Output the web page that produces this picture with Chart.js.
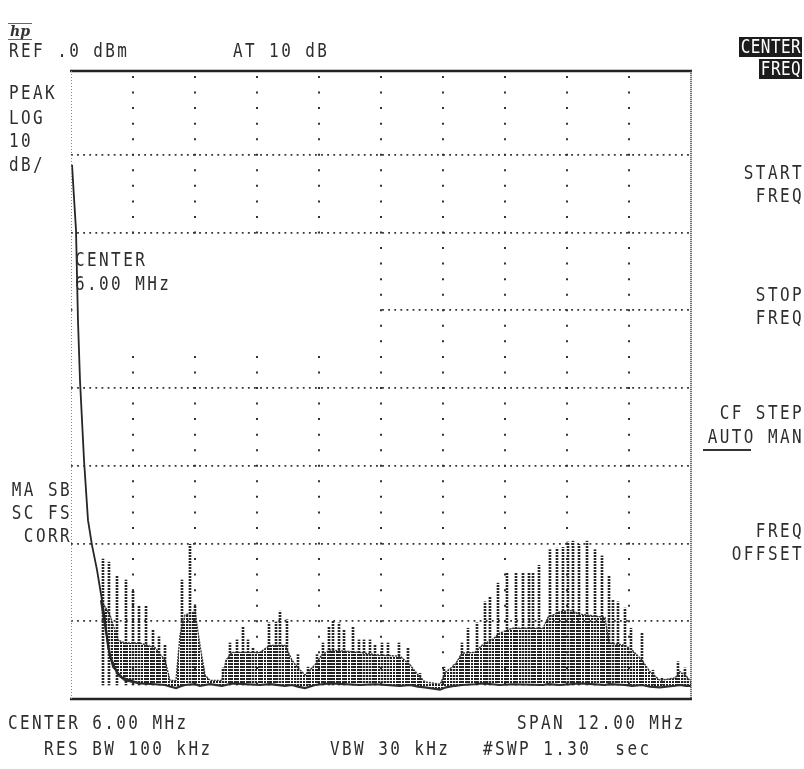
<!DOCTYPE html>
<html>
<head>
<meta charset="utf-8">
<script src="https://cdn.jsdelivr.net/npm/chart.js@4.4.1/dist/chart.umd.min.js"></script>
<style>
  html, body { margin: 0; padding: 0; background: #fff; }
  #screen { position: relative; width: 804px; height: 769px; overflow: hidden; background: #fff; }
  #screen canvas { position: absolute; left: 0; top: 0; }
  .t {
    position: absolute;
    font-family: "DejaVu Sans Mono", monospace;
    font-size: 16px;
    line-height: 16px;
    letter-spacing: 2.4px;
    color: #2e2e2e;
    white-space: pre;
    transform: scaleY(1.25);
    transform-origin: 0 0;
  }
  .r { right: 0; text-align: right; }
  .inv { background: #1c1c1c; color: #fff; letter-spacing: 0.4px; padding: 0 1px 0 2px; }
  .logo { position: absolute; left: 8px; top: 23px; font: italic bold 14px "DejaVu Serif", serif; color: #333;
          border-top: 1px solid #666; border-bottom: 1px solid #666; line-height: 15px; padding: 0 2px; }
  .bar { position: absolute; background: #333; }
</style>
</head>
<body>
<div id="screen">
  <canvas id="spectrum" width="804" height="769"></canvas>

  <div class="logo">hp</div>
  <div class="t" style="left:9px;top:41px">REF .0 dBm</div>
  <div class="t" style="left:233px;top:41px">AT 10 dB</div>

  <div class="t" style="left:9px;top:83px">PEAK</div>
  <div class="t" style="left:9px;top:108px">LOG</div>
  <div class="t" style="left:9px;top:131px">10</div>
  <div class="t" style="left:9px;top:155px">dB/</div>

  <div class="t" style="left:0;width:72px;text-align:right;top:480px">MA SB</div>
  <div class="t" style="left:0;width:72px;text-align:right;top:503px">SC FS</div>
  <div class="t" style="left:0;width:72px;text-align:right;top:526px">CORR</div>

  <div class="t inv" style="right:2px;top:37px">CENTER</div>
  <div class="t inv" style="right:2px;top:59px">FREQ</div>
  <div class="t r" style="top:163px">START</div>
  <div class="t r" style="top:186px">FREQ</div>
  <div class="t r" style="top:285px">STOP</div>
  <div class="t r" style="top:308px">FREQ</div>
  <div class="t r" style="top:403px">CF STEP</div>
  <div class="t r" style="top:427px">AUTO MAN</div>
  <div class="bar" style="left:703px;top:449px;width:48px;height:2px"></div>
  <div class="t r" style="top:521px">FREQ</div>
  <div class="t r" style="top:544px">OFFSET</div>

  <div class="t" style="left:75px;top:250px">CENTER</div>
  <div class="t" style="left:75px;top:274px">6.00 MHz</div>

  <div class="t" style="left:8px;top:713px">CENTER 6.00 MHz</div>
  <div class="t" style="left:517px;top:713px">SPAN 12.00 MHz</div>
  <div class="t" style="left:44px;top:739px">RES BW 100 kHz</div>
  <div class="t" style="left:330px;top:739px">VBW 30 kHz</div>
  <div class="t" style="left:483px;top:739px">#SWP 1.30  sec</div>
</div>

<script>
// Graticule: 10 horizontal divisions over 0-12 MHz, 10 dB/div below REF 0 dBm
const xTickMHz = [1.2, 2.4, 3.6, 4.8, 6.0, 7.2, 8.4, 9.6, 10.8];
const yTickDbm = [-70, -60, -50, -40, -30, -20, -10];

// LO feedthrough skirt at the low end of the sweep
const loMHz = [0.02, 0.058, 0.097, 0.135, 0.174, 0.252, 0.329, 0.406, 0.503, 0.600, 0.658, 0.716, 0.813, 0.987, 1.239];
const loDbm = [-11.3, -15.5, -19.7, -31.3, -39.0, -49.3, -57.0, -60.2, -63.4, -67.3, -69.8, -73.3, -75.9, -77.2, -77.8];

// Dense part of the trace: upper edge and noise floor
const envMHz = [0.581, 0.755, 0.910, 1.045, 1.335, 1.626, 1.819, 1.916, 2.032, 2.110,
                2.206, 2.400, 2.497, 2.593, 2.690, 2.922, 3.000, 3.116, 3.658, 3.851,
                4.142, 4.277, 4.393, 4.529, 4.722, 4.858, 5.013, 5.593, 5.884, 6.367,
                6.561, 6.716, 6.851, 7.142, 7.258, 7.432, 7.567, 7.819, 7.954, 8.148,
                8.303, 8.535, 9.135, 9.232, 9.464, 9.658, 9.851, 10.335, 10.413, 10.722,
                10.857, 11.051, 11.206, 11.399, 11.690, 11.787, 11.903, 12.0];
const envTopDbm = [-67.3, -69.2, -72.4, -72.8, -72.8, -73.4, -75.0, -77.6, -77.6, -71.8,
                   -69.2, -68.8, -73.1, -76.9, -77.6, -77.6, -75.0, -74.0, -74.0, -73.1,
                   -73.1, -75.0, -76.0, -76.9, -75.6, -74.3, -73.7, -74.0, -74.3, -74.5,
                   -75.6, -76.9, -77.8, -78.1, -76.5, -75.6, -74.1, -74.0, -73.1, -72.4,
                   -71.5, -70.9, -70.9, -69.5, -68.8, -68.6, -69.1, -69.5, -72.8, -73.1,
                   -73.7, -75.0, -76.5, -77.6, -77.3, -76.5, -77.0, -77.8];
const envFloorDbm = [-67.3, -74.5, -76.9, -77.6, -78.0, -78.1, -78.2, -78.4, -78.6, -78.4,
                     -78.2, -78.1, -78.3, -78.2, -78.1, -78.3, -78.2, -78.0, -78.2, -78.1,
                     -78.3, -78.2, -78.4, -78.6, -78.2, -78.1, -78.0, -78.2, -78.1, -78.3,
                     -78.2, -78.4, -78.5, -78.8, -78.5, -78.3, -78.2, -78.1, -78.0, -78.1,
                     -78.2, -78.1, -78.2, -78.1, -78.2, -78.1, -78.0, -78.2, -78.1, -78.2,
                     -78.3, -78.2, -78.4, -78.5, -78.3, -78.2, -78.3, -78.3];

// Individual spectral lines (peak level of each)
const spikeMHz = [0.619, 0.735, 0.890, 1.064, 1.200, 1.316, 1.452, 1.587, 1.703, 1.819,
                  2.148, 2.303, 2.400, 2.555, 2.942, 3.077, 3.213, 3.329, 3.426, 3.522,
                  3.658, 3.832, 3.968, 4.045, 4.180, 4.393, 4.587, 4.761, 4.877, 4.993,
                  5.071, 5.187, 5.284, 5.458, 5.574, 5.671, 5.787, 5.884, 6.019, 6.135,
                  6.348, 6.522, 6.619, 6.755, 7.219, 7.413, 7.567, 7.684, 7.858, 8.013,
                  8.109, 8.264, 8.438, 8.613, 8.748, 8.864, 8.942, 9.058, 9.270, 9.406,
                  9.522, 9.619, 9.716, 9.832, 9.987, 10.142, 10.277, 10.413, 10.490, 10.587,
                  10.722, 10.838, 11.051, 11.264, 11.438, 11.748, 11.883];
const spikeDbm = [-62.0, -62.4, -64.1, -64.7, -66.0, -68.0, -68.0, -71.1, -72.0, -73.1,
                  -64.7, -60.1, -67.9, -75.9, -76.0, -72.8, -72.4, -70.7, -72.4, -73.4,
                  -74.0, -70.2, -70.1, -68.7, -69.8, -74.3, -75.9, -74.3, -72.8, -70.7,
                  -70.0, -70.2, -71.1, -70.7, -72.4, -72.4, -72.4, -73.1, -72.8, -72.8,
                  -72.8, -73.4, -76.3, -76.7, -75.9, -75.6, -72.8, -70.9, -70.2, -67.5,
                  -66.8, -65.1, -63.8, -63.8, -63.7, -63.8, -63.8, -62.8, -60.8, -60.6,
                  -60.5, -59.8, -59.7, -60.1, -59.7, -60.8, -61.6, -64.1, -67.3, -67.5,
                  -68.3, -70.9, -71.5, -76.3, -77.2, -75.2, -76.0];
const spikeBaseDbm = -78.2;

const ink = '#333';

const toXY = (xs, ys) => xs.map((v, i) => ({ x: v, y: ys[i] }));

// Printer-dot textures: a dot grid for the dense trace, dotted rows for single lines
function dotPattern(w, h, dw, dh, color) {
  const c = document.createElement('canvas');
  c.width = w; c.height = h;
  const g = c.getContext('2d');
  g.fillStyle = color;
  g.fillRect(0, 0, dw, dh);
  return g.createPattern(c, 'repeat');
}
const meshFill = dotPattern(3, 3, 2, 2, '#1e1e1e');
const columnFill = dotPattern(3, 3, 3, 2, '#262626');

// White-out behind the on-screen annotation, and the graticule frame
const screenPlugin = {
  id: 'screen',
  beforeDatasetsDraw(chart) {
    const { ctx, scales: { x, y } } = chart;
    const x0 = x.getPixelForValue(0) + 1.5;
    const x1 = x.getPixelForValue(6.0) - 2.5;
    const y0 = y.getPixelForValue(-20) + 2.5;
    const y1 = y.getPixelForValue(-35);
    ctx.save();
    ctx.fillStyle = '#fff';
    ctx.fillRect(x0, y0, x1 - x0, y1 - y0);
    ctx.restore();
  },
  afterDraw(chart) {
    const { ctx, chartArea: a } = chart;
    ctx.save();
    ctx.strokeStyle = '#222';
    ctx.lineWidth = 2.5;
    ctx.beginPath();
    ctx.moveTo(a.left - 1, a.top); ctx.lineTo(a.right + 1, a.top);
    ctx.moveTo(a.left - 1, a.bottom); ctx.lineTo(a.right + 1, a.bottom);
    ctx.stroke();
    ctx.lineWidth = 1;
    ctx.strokeStyle = '#888';
    ctx.setLineDash([1, 2]);
    ctx.beginPath();
    ctx.moveTo(a.left + 0.5, a.top); ctx.lineTo(a.left + 0.5, a.bottom);
    ctx.stroke();
    ctx.lineWidth = 1.5;
    ctx.strokeStyle = '#444';
    ctx.setLineDash([1.2, 0.8]);
    ctx.beginPath();
    ctx.moveTo(a.right, a.top); ctx.lineTo(a.right, a.bottom);
    ctx.stroke();
    ctx.restore();
  }
};

new Chart(document.getElementById('spectrum'), {
  type: 'bar',
  data: {
    datasets: [
      {
        type: 'line',
        label: 'trace body',
        data: toXY(envMHz, envTopDbm),
        borderColor: '#3a3a3a',
        borderWidth: 1.4,
        borderDash: [2, 1],
        backgroundColor: meshFill,
        fill: '+1',
        pointRadius: 0,
        tension: 0,
        order: 3
      },
      {
        type: 'line',
        label: 'noise floor',
        data: toXY(envMHz, envFloorDbm),
        borderColor: '#2e2e2e',
        borderWidth: 2.2,
        fill: false,
        pointRadius: 0,
        tension: 0,
        order: 2
      },
      {
        type: 'bar',
        label: 'lines',
        data: spikeMHz.map((f, i) => ({ x: f, y: [spikeBaseDbm, spikeDbm[i]] })),
        backgroundColor: columnFill,
        borderWidth: 0,
        barThickness: 2,
        order: 1
      },
      {
        type: 'line',
        label: 'LO feedthrough',
        data: toXY(loMHz, loDbm),
        borderColor: '#262626',
        borderWidth: 1.8,
        fill: false,
        pointRadius: 0,
        tension: 0,
        order: 0
      }
    ]
  },
  options: {
    responsive: false,
    animation: false,
    devicePixelRatio: 1,
    events: [],
    layout: { padding: { left: 71, top: 71, right: 113, bottom: 70 } },
    plugins: { legend: { display: false }, tooltip: { enabled: false }, title: { display: false } },
    scales: {
      x: {
        type: 'linear',
        min: 0,
        max: 12,
        offset: false,
        afterBuildTicks: (s) => { s.ticks = xTickMHz.map(v => ({ value: v })); },
        ticks: { display: false },
        grid: { color: ink, lineWidth: 2, drawTicks: false, offset: false },
        border: { display: false, dash: [2, 13.55], dashOffset: 10.55 }
      },
      y: {
        type: 'linear',
        min: -80,
        max: 0.772,
        afterBuildTicks: (s) => { s.ticks = yTickDbm.map(v => ({ value: v })); },
        ticks: { display: false },
        grid: { color: ink, lineWidth: 1.8, drawTicks: false },
        border: { display: false, dash: [1.8, 4.3], dashOffset: 0 }
      }
    }
  },
  plugins: [screenPlugin]
});
</script>
</body>
</html>
